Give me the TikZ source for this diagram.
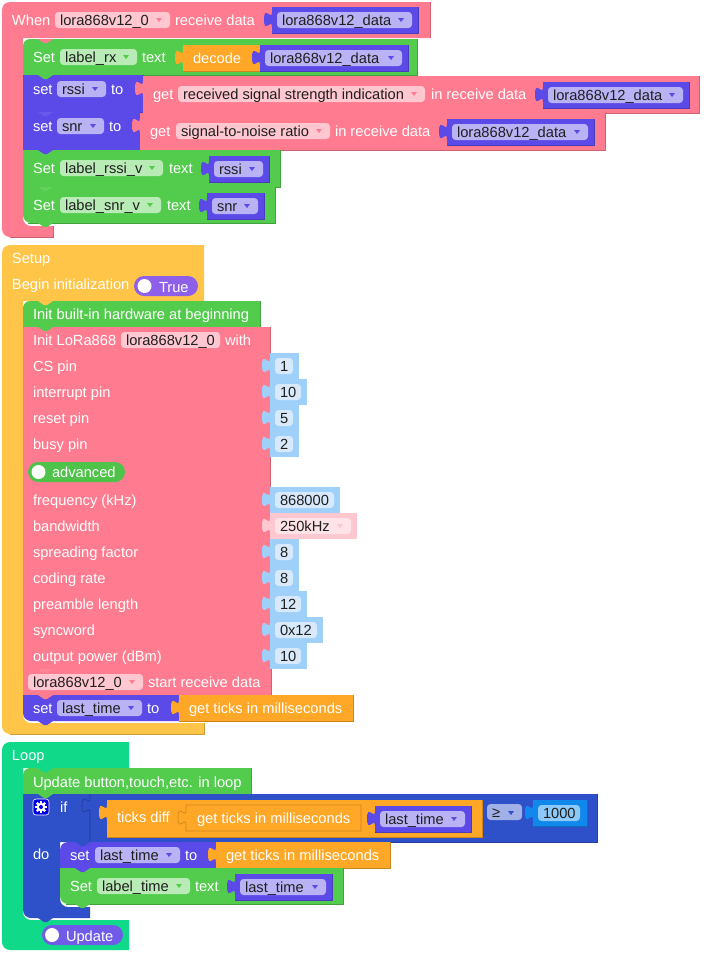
\documentclass[tikz,border=0pt]{standalone}
\usepackage{fontspec}
\setmainfont{Liberation Sans}
\definecolor{pinkb}{HTML}{FF7B8F}
\definecolor{pinkf}{HTML}{FFC7D0}
\definecolor{greenb}{HTML}{53CC4E}
\definecolor{greenf}{HTML}{B9EBB6}
\definecolor{indigob}{HTML}{5C4AE8}
\definecolor{indigof}{HTML}{B9B2F5}
\definecolor{orangeb}{HTML}{FFA726}
\definecolor{yellowb}{HTML}{FFC548}
\definecolor{tealb}{HTML}{10D98A}
\definecolor{blueb}{HTML}{2E50C8}
\definecolor{skyb}{HTML}{9FD0F9}
\definecolor{skyf}{HTML}{D7E9FB}
\definecolor{azureb}{HTML}{1088EC}
\definecolor{azuref}{HTML}{8CC8F8}
\definecolor{rosef}{HTML}{FFE3E8}
\definecolor{purplet}{HTML}{8E5FE8}
\definecolor{updatet}{HTML}{6F5BE8}
\tikzset{
  lbl/.style={anchor=base west, inner sep=0pt, outer sep=0pt, text=white, font=\fontsize{14.67}{16}\selectfont},
  val/.style={lbl, text=black!88}
}
\newcommand{\blk}[5]{\fill[#1] (#2,#3) rectangle (#4,#5);
  \draw[#1!80!black, line width=0.7pt] (#2,#5) -- (#4,#5) -- (#4,#3);}
\newcommand{\blkt}[5]{\fill[#1] (#4,#5) -- (#2,#5) [rounded corners=7pt] -- (#2,#3) [sharp corners] -- (#4,#3) -- cycle;
  \draw[#1!80!black, line width=0.7pt] (#2,#5) -- (#4,#5) -- (#4,#3);}
\newcommand{\plug}[3]{\fill[#1] (#2,#3+5) .. controls (#2,#3+15) and (#2-8,#3-3) .. (#2-8,#3+12.5)
  .. controls (#2-8,#3+28) and (#2,#3+10) .. (#2,#3+20) -- cycle;}
\newcommand{\stepn}[3]{\fill[#1] (#2,#3) -- (#2+6,#3+4) -- (#2+9,#3+4) -- (#2+15,#3) -- cycle;}
\newcommand{\lbl}[4]{\node[lbl] (#1) at (#2,#3) {#4};}
\newcommand{\fieldp}[6]{\fill[#2, rounded corners=3.5pt] (#3,#5-13) rectangle (#4,#5+3);
  \node[val] (#1) at (#3+5,#5) {#6};}
\newcommand{\menup}[7]{\fieldp{#1}{#2}{#4}{#5}{#6}{#7}
  \fill[#3] (#5-14,#6-7) -- (#5-8,#6-7) -- (#5-11,#6-3) -- cycle;}
\newcommand{\varb}[5]{\plug{indigob}{#2}{#3}\blk{indigob}{#2}{#3}{#4}{#3+26}
  \menup{#1}{indigof}{indigob}{#2+5}{#4-6}{#3+18}{#5}}
\begin{document}
\begin{tikzpicture}[x=1pt,y=-1pt]
  \useasboundingbox (0,0) rectangle (706,956);
  % when block
  \fill[pinkb] (430,38) -- (23,38) [rounded corners=8pt] -- (23,226) [sharp corners] -- (53,226) -- (53,237) [rounded corners=8pt] -- (2,237) -- (2,2) [sharp corners] -- (430,2) -- cycle;
  \draw[pinkb!80!black, line width=0.7pt] (430,2) -- (430,38) (10,237) -- (53,237) -- (53,226);
  \lbl{when}{12}{25}{When}
  \menup{whenlora}{pinkf}{pinkb}{55}{170}{25}{lora868v12\_0}
  \lbl{whenrecv}{175}{25}{receive data}
  \varb{whendata}{272}{7}{418}{lora868v12\_data}
  \blkt{greenb}{23}{39}{417}{75}
  \stepn{pinkb}{38}{39}
  \lbl{setrx}{33}{62}{Set}
  \menup{rxfield}{greenf}{greenb}{60}{137}{62}{label\_rx}
  \lbl{rxtext}{142}{62}{text}
  \plug{orangeb}{183}{45}\blk{orangeb}{183}{45}{260}{71}
  \lbl{decode}{193}{63}{decode}
  \varb{rxdata}{260}{45}{408}{lora868v12\_data}
  \blk{indigob}{23}{75}{143}{112}
  \stepn{greenb}{38}{75}
  \lbl{setrssi}{33}{94}{set}
  \menup{rssifield}{indigof}{indigob}{57}{106}{94}{rssi}
  \lbl{rssito}{111}{94}{to}
  \plug{pinkb}{143}{76}\blk{pinkb}{143}{76}{699}{113}
  \lbl{getrssi}{153}{99}{get}
  \menup{rssiname}{pinkf}{pinkb}{178}{425}{99}{received signal strength indication}
  \lbl{rssiin}{431}{99}{in receive data}
  \varb{rssidata}{543}{82}{689}{lora868v12\_data}
  \blk{indigob}{23}{112}{140}{150}
  \stepn{indigob!92!white}{38}{112}
  \lbl{setsnr}{33}{131}{set}
  \menup{snrfield}{indigof}{indigob}{57}{104}{131}{snr}
  \lbl{snrto}{109}{131}{to}
  \plug{pinkb}{140}{113}\blk{pinkb}{140}{113}{605}{150}
  \lbl{getsnr}{150}{136}{get}
  \menup{snrname}{pinkf}{pinkb}{176}{330}{136}{signal-to-noise ratio}
  \lbl{snrin}{335}{136}{in receive data}
  \varb{snrdata}{447}{119}{594}{lora868v12\_data}
  \blk{greenb}{23}{150}{280}{187}
  \stepn{indigob}{38}{150}
  \lbl{setrv}{33}{173}{Set}
  \menup{rvfield}{greenf}{greenb}{60}{163}{173}{label\_rssi\_v}
  \lbl{rvtext}{169}{173}{text}
  \varb{rvvar}{209}{156}{269}{rssi}
  \fill[greenb] (275,187) -- (275,223) -- (31,223) [rounded corners=8pt] -- (23,223) [sharp corners] -- (23,187) -- cycle;
  \draw[greenb!80!black, line width=0.7pt] (28,223) -- (275,223) -- (275,187);
  \stepn{greenb!92!white}{38}{187}
  \lbl{setsv}{33}{210}{Set}
  \menup{svfield}{greenf}{greenb}{60}{161}{210}{label\_snr\_v}
  \lbl{svtext}{167}{210}{text}
  \varb{svvar}{207}{193}{264}{snr}
  \stepn{greenb}{38}{223}
  % setup block
  \fill[yellowb] (204,301) -- (23,301) [rounded corners=8pt] -- (23,723) [sharp corners] -- (204,723) -- (204,734) [rounded corners=8pt] -- (2,734) -- (2,245) [sharp corners] -- (204,245) -- cycle;
  \draw[yellowb!80!black, line width=0.7pt] (204,723) -- (204,734) -- (10,734);
  \lbl{setup}{12}{263}{Setup}
  \lbl{begin}{12}{289}{Begin initialization}
  \fill[purplet, rounded corners=10pt] (134,276) rectangle (198,296);
  \fill[white] (144.5,286) circle (7);
  \lbl{beginval}{159}{292}{True}
  \blkt{greenb}{23}{301}{260}{327}
  \stepn{yellowb}{38}{301}
  \lbl{hardware}{33}{319}{Init built-in hardware at beginning}
  \blk{pinkb}{23}{327}{270}{669}
  \stepn{greenb}{38}{327}
  \lbl{initlora}{33}{345}{Init LoRa868}
  \fieldp{initname}{pinkf}{121}{220}{345}{lora868v12\_0}
  \lbl{initwith}{225}{345}{with}
  \foreach \rw/\ytop/\xend/\lab/\num in {cs/353/299/CS pin/1, int/379/307/interrupt pin/10, rst/405/299/reset pin/5, busy/431/299/busy pin/2,
    freq/487/340/frequency (kHz)/868000, sf/539/299/spreading factor/8, cr/565/299/coding rate/8,
    pre/591/307/preamble length/12, sync/617/323/syncword/0x12, pow/643/307/output power (dBm)/10} {
    \lbl{\rw lab}{33}{\ytop+18}{\lab}
    \plug{skyb}{270}{\ytop}
    \fill[skyb] (270,\ytop) rectangle (\xend,\ytop+26);
    \fieldp{\rw val}{skyf}{275}{\xend-6}{\ytop+18}{\num}
  }
  \lbl{bwlab}{33}{531}{bandwidth}
  \plug{pinkf}{270}{513}
  \fill[pinkf] (270,513) rectangle (357,539);
  \menup{bwval}{rosef}{pinkf}{275}{351}{531}{250kHz}
  \fill[greenb!95!black, rounded corners=10pt] (28,462) rectangle (125,482);
  \fill[white] (38.5,472) circle (7);
  \lbl{advanced}{52}{477.5}{advanced}
  \blk{pinkb}{23}{669}{271}{695}
  \stepn{pinkb!92!white}{38}{669}
  \menup{startname}{pinkf}{pinkb}{28}{143}{687}{lora868v12\_0}
  \lbl{startrecv}{148}{687}{start receive data}
  \fill[indigob] (179,695) -- (179,721) -- (31,721) [rounded corners=8pt] -- (23,721) [sharp corners] -- (23,695) -- cycle;
  \stepn{pinkb}{38}{695}
  \stepn{indigob}{38}{721}
  \lbl{setlast}{33}{713}{set}
  \menup{lastfield}{indigof}{indigob}{57}{142}{713}{last\_time}
  \lbl{lastto}{147}{713}{to}
  \plug{orangeb}{179}{695}\blk{orangeb}{179}{695}{353}{721}
  \lbl{lastticks}{189}{713}{get ticks in milliseconds}
  % loop block
  \fill[tealb] (129,768) -- (23,768) [rounded corners=8pt] -- (23,920) [sharp corners] -- (129,920) -- (129,950) [rounded corners=8pt] -- (2,950) -- (2,742) [sharp corners] -- (129,742) -- cycle;
  \lbl{loop}{12}{760}{Loop}
  \fill[updatet, rounded corners=10pt] (42,925) rectangle (123,945);
  \fill[white] (52,935) circle (7);
  \lbl{update}{66}{941}{Update}
  \blkt{greenb}{23}{768}{251}{794}
  \stepn{tealb}{38}{768}
  \lbl{button}{33}{787}{Update button,touch,etc. in loop}
  \fill[blueb] (597,794) -- (597,842) -- (60,842) [rounded corners=8pt] -- (60,907) [sharp corners] -- (90,907) -- (90,918) [rounded corners=8pt] -- (23,918) [sharp corners] -- (23,794) -- cycle;
  \draw[blueb!80!black, line width=0.7pt] (597,794) -- (597,842) -- (390,842);
  \draw[blueb!75!black, line width=0.6pt] (90,794) -- (90,798) .. controls (90,808) and (82,790) .. (82,805.5) .. controls (82,821) and (90,803) .. (90,813) -- (90,842);
  \stepn{greenb}{38}{794}
  \stepn{blueb}{38}{918}
  \fill[blue!90!black, rounded corners=3pt, draw=white, line width=0.6pt] (33,799) rectangle (49,815);
  \foreach \ang in {0,45,...,315} {\fill[white, rotate around={\ang:(41,807)}] (39.8,801) rectangle (42.2,804);}
  \fill[white] (41,807) circle (4.3);
  \fill[blue!90!black] (41,807) circle (2);
  \lbl{ifword}{60}{812}{if}
  \lbl{doword}{33}{859}{do}
  \plug{orangeb}{107}{800}\blk{orangeb}{107}{800}{482}{837}
  \lbl{ticksdiff}{117}{822}{ticks diff}
  \draw[orangeb!80!black, line width=0.6pt] (361,805) -- (186,805) -- (186,810) .. controls (186,820) and (178,802) .. (178,817.5) .. controls (178,833) and (186,815) .. (186,825) -- (186,831) -- (361,831) -- (361,805);
  \lbl{diffticks}{197}{823}{get ticks in milliseconds}
  \varb{diffvar}{375}{806}{471}{last\_time}
  \fieldp{opsym}{blueb!45!white}{487}{522}{817}{≥}
  \fill[blueb] (508,811) -- (514,811) -- (511,815) -- cycle;
  \plug{azureb}{533}{800}\blk{azureb}{533}{800}{587}{826}
  \fieldp{limit}{azuref}{538}{580}{818}{1000}
  \fill[indigob] (216,842) -- (216,868) -- (60,868) -- (60,850) [rounded corners=8pt] -- (60,842) [sharp corners] -- cycle;
  \stepn{blueb}{75}{842}
  \lbl{dolast}{70}{860}{set}
  \menup{dofield}{indigof}{indigob}{95}{180}{860}{last\_time}
  \lbl{doto}{185}{860}{to}
  \plug{orangeb}{216}{842}\blk{orangeb}{216}{842}{390}{868}
  \lbl{doticks}{226}{860}{get ticks in milliseconds}
  \fill[greenb] (343,868) -- (343,904) -- (68,904) [rounded corners=8pt] -- (60,904) [sharp corners] -- (60,868) -- cycle;
  \draw[greenb!80!black, line width=0.7pt] (66,904) -- (343,904) -- (343,868);
  \stepn{indigob}{75}{868}
  \stepn{greenb}{75}{904}
  \lbl{setlabel}{70}{891}{Set}
  \menup{timefield}{greenf}{greenb}{97}{190}{891}{label\_time}
  \lbl{timetext}{195}{891}{text}
  \varb{timevar}{235}{874}{332}{last\_time}
\end{tikzpicture}
\end{document}
